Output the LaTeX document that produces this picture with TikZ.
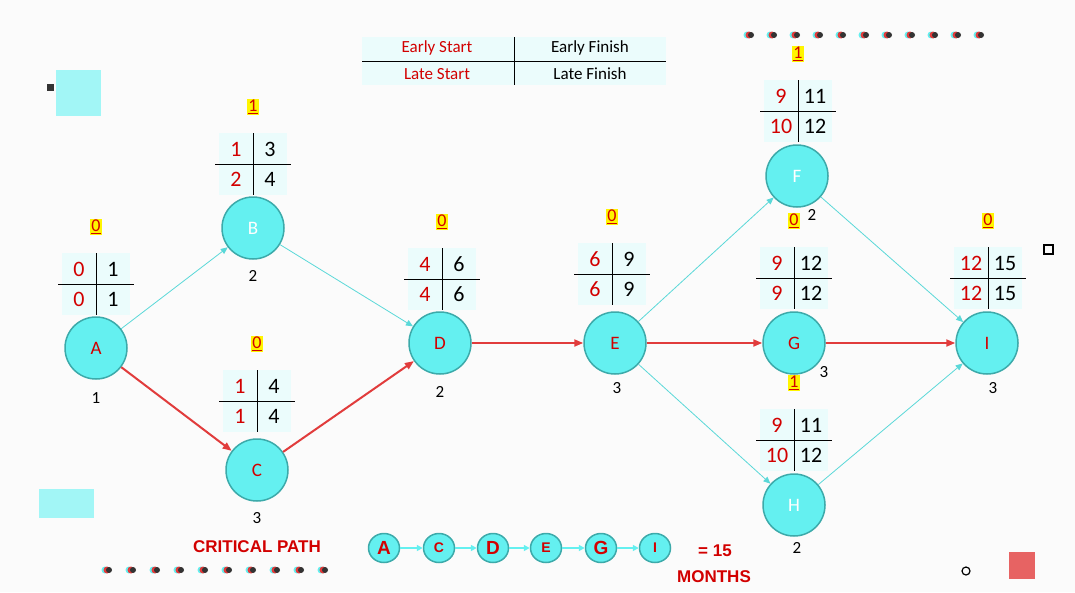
\documentclass[tikz,border=0pt]{standalone}
\usepackage{fontspec}
\setmainfont{Carlito}
\newfontfamily\cpfont{Liberation Sans}
\usetikzlibrary{arrows.meta,shapes.geometric}

\definecolor{actcyan}{RGB}{100,240,240}
\definecolor{actedge}{RGB}{60,170,170}
\definecolor{critred}{RGB}{225,60,60}
\definecolor{txtred}{RGB}{210,0,0}
\definecolor{tblbg}{RGB}{235,252,252}
\definecolor{slackbg}{RGB}{255,245,0}

\tikzset{
	activity/.style={circle, draw=actedge, line width=1.5pt, fill=actcyan, minimum size=62pt, font=\fontsize{19}{19}\selectfont},
	duration/.style={font=\fontsize{17}{17}\selectfont},
	normal/.style={-{Triangle[length=7pt,width=6pt]}, draw=actcyan!90!black, line width=0.8pt},
	critical/.style={-{Triangle[length=9pt,width=7pt]}, draw=critred, line width=2pt},
	cell/.style={font=\fontsize{22}{22}\selectfont, inner sep=0pt},
	slack/.style={fill=slackbg, inner sep=1pt, font=\fontsize{18}{18}\selectfont\color{txtred}},
	mini/.style={ellipse, draw=actedge, line width=1.5pt, fill=actcyan, minimum width=31pt, minimum height=29pt, inner sep=0pt, font=\cpfont\bfseries\fontsize{19}{19}\selectfont\color{txtred}},
	dot/.style={circle, inner sep=0pt, minimum size=7pt}
}

% time table above an activity: name, x, y(cross), es, ef, ls, lf, slack
\newcommand{\timetable}[8]{
	\fill[tblbg] (#2-34,#3-31) rectangle (#2+34,#3+31);
	\draw[line width=1pt] (#2,#3-31) -- (#2,#3+31);
	\draw[line width=1pt] (#2-38,#3) -- (#2+38,#3);
	\node[cell, text=txtred] (#1es) at (#2-17,#3-15) {#4};
	\node[cell] (#1ef) at (#2+17,#3-15) {#5};
	\node[cell, text=txtred] (#1ls) at (#2-17,#3+15) {#6};
	\node[cell] (#1lf) at (#2+17,#3+15) {#7};
	\node[slack] (#1sl) at (#2,#3-57) {\underline{#8}};
}

\begin{document}
\begin{tikzpicture}[x=1pt,y=-1pt]
	\useasboundingbox[fill=white!97!gray] (0,0) rectangle (1075,592);

	% legend
	\fill[tblbg] (362,37) rectangle (666,85);
	\draw (362,61) -- (666,61);
	\draw (514,37) -- (514,85);
	\node[font=\fontsize{17}{17}\selectfont, text=txtred] (les) at (437,48) {Early Start};
	\node[font=\fontsize{17}{17}\selectfont] (lef) at (590,48) {Early Finish};
	\node[font=\fontsize{17}{17}\selectfont, text=txtred] (lls) at (437,74) {Late Start};
	\node[font=\fontsize{17}{17}\selectfont] (llf) at (590,74) {Late Finish};

	% decoration
	\fill[actcyan!60] (56,70) rectangle (101,116);
	\fill[actcyan!60] (39,489) rectangle (94,518);
	\fill[black!80] (47,84) rectangle (54,91);
	\fill[critred!80] (1009,552) rectangle (1035,579);
	\draw[line width=1.2pt] (1044,245) rectangle (1053,254);
	\draw[line width=1.2pt] (966,571) circle (4);
	\foreach \x in {750,773,...,980} {
		\node[dot, fill=actcyan] at (\x-3,35) {};
		\node[dot, fill=critred] at (\x-1,35) {};
		\node[dot, fill=black!80, minimum size=6pt] at (\x+1,35) {};
	}
	\foreach \x in {108,132,...,335} {
		\node[dot, fill=actcyan] at (\x-3,570) {};
		\node[dot, fill=critred] at (\x-1,570) {};
		\node[dot, fill=black!80, minimum size=6pt] at (\x+1,570) {};
	}

	% activities
	\node[activity, text=txtred] (A) at (96,348) {A};
	\node[activity, text=white] (B) at (253,228) {B};
	\node[activity, text=txtred] (C) at (257,470) {C};
	\node[activity, text=txtred] (D) at (440,343) {D};
	\node[activity, text=txtred] (E) at (615,343) {E};
	\node[activity, text=white] (F) at (797,176) {F};
	\node[activity, text=txtred] (G) at (794,343) {G};
	\node[activity, text=white] (H) at (794,505) {H};
	\node[activity, text=txtred] (I) at (987,343) {I};

	\node[duration] (Ad) at (96,398) {1};
	\node[duration] (Bd) at (253,276) {2};
	\node[duration] (Cd) at (257,518) {3};
	\node[duration] (Dd) at (440,392) {2};
	\node[duration] (Ed) at (617,388) {3};
	\node[duration] (Fd) at (812,215) {2};
	\node[duration] (Gd) at (824,372) {3};
	\node[duration] (Hd) at (797,548) {2};
	\node[duration] (Id) at (993,388) {3};

	\timetable{A}{96}{284}{0}{1}{0}{1}{0}
	\timetable{B}{253}{164}{1}{3}{2}{4}{1}
	\timetable{C}{257}{401}{1}{4}{1}{4}{0}
	\timetable{D}{442}{279}{4}{6}{4}{6}{0}
	\timetable{E}{612}{274}{6}{9}{6}{9}{0}
	\timetable{F}{798}{111}{9}{11}{10}{12}{1}
	\timetable{G}{794}{278}{9}{12}{9}{12}{0}
	\timetable{H}{794}{440}{9}{11}{10}{12}{1}
	\timetable{I}{988}{278}{12}{15}{12}{15}{0}

	% dependencies
	\draw[normal] (A) -- (B);
	\draw[normal] (B) -- (D);
	\draw[normal] (E) -- (F);
	\draw[normal] (F) -- (I);
	\draw[normal] (E) -- (H);
	\draw[normal] (H) -- (I);
	\draw[critical] (A) -- (C);
	\draw[critical] (C) -- (D);
	\draw[critical] (D) -- (E);
	\draw[critical] (E) -- (G);
	\draw[critical] (G) -- (I);

	% critical path
	\node[font=\cpfont\bfseries\fontsize{17}{17}\selectfont, text=txtred] (cp) at (257,547) {CRITICAL PATH};
	\node[mini] (pA) at (384,548) {A};
	\node[mini] (pC) at (439,548) {\fontsize{14}{14}\selectfont C};
	\node[mini] (pD) at (493,548) {D};
	\node[mini] (pE) at (546,548) {\fontsize{14}{14}\selectfont E};
	\node[mini] (pG) at (601,548) {G};
	\node[mini] (pI) at (655,548) {\fontsize{14}{14}\selectfont I};
	\foreach \a/\b in {pA/pC,pC/pD,pD/pE,pE/pG,pG/pI}
		\draw[-{Triangle[length=6pt,width=6pt]}, draw=actcyan, line width=1.5pt] (\a) -- (\b);
	\node[font=\cpfont\bfseries\fontsize{17}{17}\selectfont, text=txtred] (mo1) at (715,551) {= 15};
	\node[font=\cpfont\bfseries\fontsize{17}{17}\selectfont, text=txtred] (mo2) at (714,577) {MONTHS};
\end{tikzpicture}
\end{document}
